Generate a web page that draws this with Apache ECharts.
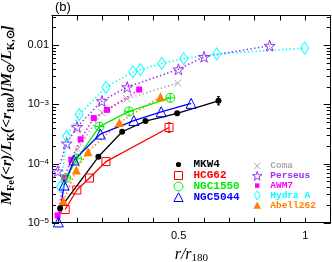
<!DOCTYPE html>
<html><head><meta charset="utf-8">
<script src="https://cdn.jsdelivr.net/npm/echarts@6/dist/echarts.min.js"></script>
<style>html,body{margin:0;padding:0;background:#fff}#c{width:332px;height:262px}</style>
</head><body><div id="c"></div>
<script>
// ---- data (r/r180, M_Fe/L_K) ----
const xMKW4 = [0.032, 0.183, 0.277, 0.369, 0.494, 0.657];
const yMKW4 = [1.75e-5, 1.30e-4, 3.45e-4, 5.22e-4, 7.05e-4, 1.15e-3];
const xHCG62 = [0.052, 0.098, 0.148, 0.213, 0.462];
const yHCG62 = [1.67e-5, 3.57e-5, 5.69e-5, 1.08e-4, 4.06e-4];
const xNGC1550 = [0.056, 0.099, 0.187, 0.304, 0.467];
const yNGC1550 = [5.7e-5, 1.21e-4, 4.22e-4, 7.62e-4, 1.29e-3];
const xNGC5044 = [0.025, 0.048, 0.087, 0.191, 0.323, 0.431, 0.549];
const yNGC5044 = [1.03e-5, 4.33e-5, 1.15e-4, 3.15e-4, 5.33e-4, 7.5e-4, 1.04e-3];
const xComa = [0.058, 0.101, 0.197, 0.296, 0.496];
const yComa = [5.26e-5, 1.76e-4, 7.27e-4, 1.24e-3, 2.29e-3];
const xPerseus = [0.022, 0.058, 0.099, 0.197, 0.297, 0.499, 0.600, 0.859];
const yPerseus = [7.41e-5, 2.19e-4, 4.17e-4, 1.14e-3, 1.96e-3, 3.92e-3, 6.37e-3, 9.84e-3];
const xAWM7 = [0.022, 0.049, 0.076, 0.113, 0.165, 0.217, 0.344];
const yAWM7 = [1.33e-5, 5.75e-5, 1.16e-4, 2.57e-4, 5.87e-4, 8.07e-4, 1.78e-3];
const xHydraA = [0.034, 0.058, 0.107, 0.213, 0.319, 0.349, 0.433, 0.520, 0.650, 0.997];
const yHydraA = [4.06e-5, 2.88e-4, 6.73e-4, 1.94e-3, 3.54e-3, 3.87e-3, 4.93e-3, 5.94e-3, 7.13e-3, 8.93e-3];
const xAbell262 = [0.045, 0.096, 0.142, 0.266, 0.428];
const yAbell262 = [2.33e-5, 7.76e-5, 1.58e-4, 4.93e-4, 1.34e-3];
// error bars: [x, low, high]
const errMKW4 = [[0.657, 0.98e-3, 1.35e-3]];
const errHCG62 = [[0.462, 3.35e-4, 4.9e-4]];
const xTickLabels = [0.5, 1];
const yTickLabels = {'-5': '10{s|−5}', '-4': '10{s|−4}', '-3': '10{s|−3}', '-2': '0.01'};

const STAR = 'path://M50,0L61,35L98,35L68,57L79,91L50,70L21,91L32,57L2,35L39,35Z';
const CROSS = 'path://M0,0L10,10M10,0L0,10';
const CPLUS = 'path://M0,10A10,10,0,1,1,20,10A10,10,0,1,1,0,10ZM10,0L10,20M0,10L20,10';
// legend icons (padded 10x10 boxes so each keeps its own size)
const P = 'path://M0,0M10,10';
const L_DOT = P + 'M7.6,5A2.6,2.6,0,1,1,2.4,5A2.6,2.6,0,1,1,7.6,5Z';
const L_SQ = P + 'M1,1L9,1L9,9L1,9Z';
const L_CIR = P + 'M9.5,5A4.5,4.5,0,1,1,0.5,5A4.5,4.5,0,1,1,9.5,5Z';
const L_TRI = P + 'M5,0.3L9.6,9L0.4,9Z';
const L_X = P + 'M1.5,1.5L8.5,8.5M8.5,1.5L1.5,8.5';
const L_STAR = 'path://M5,-0.3L6.2,3.4L10.1,3.4L7,5.7L8.1,9.4L5,7.1L1.9,9.4L3,5.7L-0.1,3.4L3.8,3.4Z';
const L_FSQ = P + 'M2.5,2.5L7.5,2.5L7.5,7.5L2.5,7.5Z';
const L_DIA = P + 'M5,-0.5L8.6,5L5,10.5L1.4,5Z';
const L_FTRI = P + 'M5,1L9.2,9L0.8,9Z';

const zip = (a, b) => a.map((v, i) => [v, b[i]]);
const T = 'rgba(0,0,0,0)';

function mk(name, xs, ys, color, symbol, size, filled, dotted) {
  return {
    name, type: 'line', data: zip(xs, ys), symbol, symbolSize: size,
    xAxisIndex: 0, yAxisIndex: 0,
    itemStyle: filled ? {color: color, borderWidth: 0} : {color: T, borderColor: color, borderWidth: 1},
    lineStyle: dotted ? {color, width: 1.6, type: [1.4, 2.4]} : {color, width: 1.3},
    emphasis: {disabled: true}, animation: false
  };
}
function errSeries(data, color) {
  return {type: 'custom', data, silent: true, z: 3,
    renderItem: (params, api) => {
      const a = api.coord([api.value(0), api.value(1)]);
      const b = api.coord([api.value(0), api.value(2)]);
      return {type: 'group', children: [
        {type: 'line', shape: {x1: a[0], y1: a[1], x2: b[0], y2: b[1]}, style: {stroke: color, lineWidth: 1}},
        {type: 'line', shape: {x1: a[0] - 1.5, y1: a[1], x2: a[0] + 1.5, y2: a[1]}, style: {stroke: color, lineWidth: 1}},
        {type: 'line', shape: {x1: b[0] - 1.5, y1: b[1], x2: b[0] + 1.5, y2: b[1]}, style: {stroke: color, lineWidth: 1}}
      ]};
    }};
}
const series = [
  mk('Coma', xComa, yComa, '#aaaaaa', CROSS, 7, false, true),
  mk('Abell262', xAbell262, yAbell262, '#ff8000', 'triangle', 9, true, true),
  mk('AWM7', xAWM7, yAWM7, '#ff00ff', 'rect', 6, true, true),
  mk('Perseus', xPerseus, yPerseus, '#9a30f0', STAR, 11, false, true),
  mk('Hydra A', xHydraA, yHydraA, '#00ffff', 'diamond', [8, 12], false, true),
  mk('HCG62', xHCG62, yHCG62, '#ff0000', 'rect', 8, false, false),
  mk('NGC1550', xNGC1550, yNGC1550, '#00ee00', CPLUS, 9, false, false),
  mk('NGC5044', xNGC5044, yNGC5044, '#0000ff', 'triangle', 10, false, false),
  mk('MKW4', xMKW4, yMKW4, '#000000', 'circle', 6, true, false),
  errSeries(errMKW4, '#000000'),
  errSeries(errHCG62, '#ff0000')
];

const legFont = {fontFamily: 'Liberation Mono', fontWeight: 'bold'};
function li(name, icon, color, filled, fs) {
  return {name, icon,
    itemStyle: filled ? {color, borderWidth: 0} : {color: T, borderColor: color, borderWidth: 1},
    textStyle: Object.assign({color, fontSize: fs}, legFont)};
}
const serif = 'Liberation Serif';
const axisCommon = {
  type: 'value', min: 0, max: 1.1, interval: 0.1,
  axisLine: {show: true, onZero: false, lineStyle: {color: '#000', width: 1}},
  axisTick: {show: true, inside: true, length: 5, lineStyle: {color: '#000'}},
  splitLine: {show: false}
};
const chart = echarts.init(document.getElementById('c'), null, {renderer: 'canvas'});
chart.setOption({
  animation: false,
  title: {text: '(b)', left: 55, top: 1, padding: 0, textStyle: {fontSize: 13, fontWeight: 'normal', fontFamily: 'Liberation Sans', color: '#000'}},
  grid: {left: 52, right: 1.3, top: 15.5, bottom: 39.3, containLabel: false, outerBoundsMode: 'none'},
  legend: [
    {data: [li('MKW4', L_DOT, '#000', true, 11), li('HCG62', L_SQ, '#ff0000', false, 11),
            li('NGC1550', L_CIR, '#00ee00', false, 11), li('NGC5044', L_TRI, '#0000ff', false, 11)],
     orient: 'vertical', left: 168, top: 154, itemWidth: 20, itemHeight: 10, itemGap: 0, symbolKeepAspect: true,
     textStyle: {lineHeight: 10}, selectedMode: false},
    {data: [li('Coma', L_X, '#aaaaaa', false, 9.5), li('Perseus', L_STAR, '#9a30f0', false, 9.5),
            li('AWM7', L_FSQ, '#ff00ff', true, 9.5), li('Hydra A', L_DIA, '#00ffff', false, 9.5),
            li('Abell262', L_FTRI, '#ff8000', true, 9.5)],
     orient: 'vertical', left: 247, top: 156, itemWidth: 16, itemHeight: 9, itemGap: -0.2, symbolKeepAspect: true,
     textStyle: {lineHeight: 9}, selectedMode: false}
  ],
  xAxis: [
    Object.assign({}, axisCommon, {position: 'bottom',
      name: '{i|r/r}{s|180}', nameLocation: 'middle', nameGap: 17,
      nameTextStyle: {rich: {
        i: {fontFamily: serif, fontStyle: 'italic', fontSize: 16, lineHeight: 18, color: '#000'},
        s: {fontFamily: serif, fontSize: 11, lineHeight: 10, verticalAlign: 'bottom', color: '#000'}}},
      axisLabel: {margin: 8, fontSize: 11, fontFamily: 'Liberation Sans', color: '#000',
        formatter: v => xTickLabels.some(t => Math.abs(t - v) < 1e-9) ? String(v) : ''}}),
    Object.assign({}, axisCommon, {position: 'top', axisLabel: {show: false}})
  ],
  yAxis: [
    {type: 'log', logBase: 10, min: 1e-5, max: 0.0318, position: 'left',
     axisLine: {show: true, onZero: false, lineStyle: {color: '#000', width: 1}},
     axisTick: {show: false}, splitLine: {show: false},
     axisLabel: {margin: 3, fontSize: 11, fontFamily: 'Liberation Sans', color: '#000',
       rich: {s: {fontSize: 8, fontFamily: 'Liberation Sans', lineHeight: 8, verticalAlign: 'top', color: '#000'}},
       formatter: v => { const e = Math.log10(v); const r = Math.round(e);
         return Math.abs(e - r) < 1e-6 && yTickLabels[String(r)] ? yTickLabels[String(r)] : ''; }},
     name: '{i|M}{s|Fe}{i|(<r)/L}{s|K}{i|(<r}{s|180}{i|)[M}{s|⊙}{i|/L}{s|K,⊙}{i|]}',
     nameLocation: 'middle', nameRotate: 90, nameGap: 31,
     nameTextStyle: {padding: [0, 0, 0, 8], rich: {
       i: {fontFamily: serif, fontStyle: 'italic', fontWeight: 'bold', fontSize: 15.5, lineHeight: 19, color: '#000'},
       s: {fontFamily: serif, fontWeight: 'bold', fontSize: 10.5, lineHeight: 10, verticalAlign: 'bottom', color: '#000'}}}},
    {type: 'log', logBase: 10, min: 1e-5, max: 0.0318, position: 'right',
     axisLine: {show: true, onZero: false, lineStyle: {color: '#000', width: 1}},
     axisTick: {show: false}, splitLine: {show: false}, axisLabel: {show: false}}
  ],
  series
});

// log-axis major/minor ticks on both vertical sides
const g = [];
const xl = chart.convertToPixel({xAxisIndex: 0}, 0);
const xr = chart.convertToPixel({xAxisIndex: 0}, 1.1);
for (let d = -5; d <= -2; d++) {
  for (let m = 1; m <= 9; m++) {
    const v = m * Math.pow(10, d);
    if (v > 0.0318) break;
    const y = Math.round(chart.convertToPixel({yAxisIndex: 0}, v)) + 0.5;
    const len = m === 1 ? 7 : 4;
    g.push({type: 'line', shape: {x1: xl, y1: y, x2: xl + len, y2: y}, style: {stroke: '#000', lineWidth: 1}, silent: true});
    g.push({type: 'line', shape: {x1: xr, y1: y, x2: xr - len, y2: y}, style: {stroke: '#000', lineWidth: 1}, silent: true});
  }
}
chart.setOption({graphic: g});
</script></body></html>
